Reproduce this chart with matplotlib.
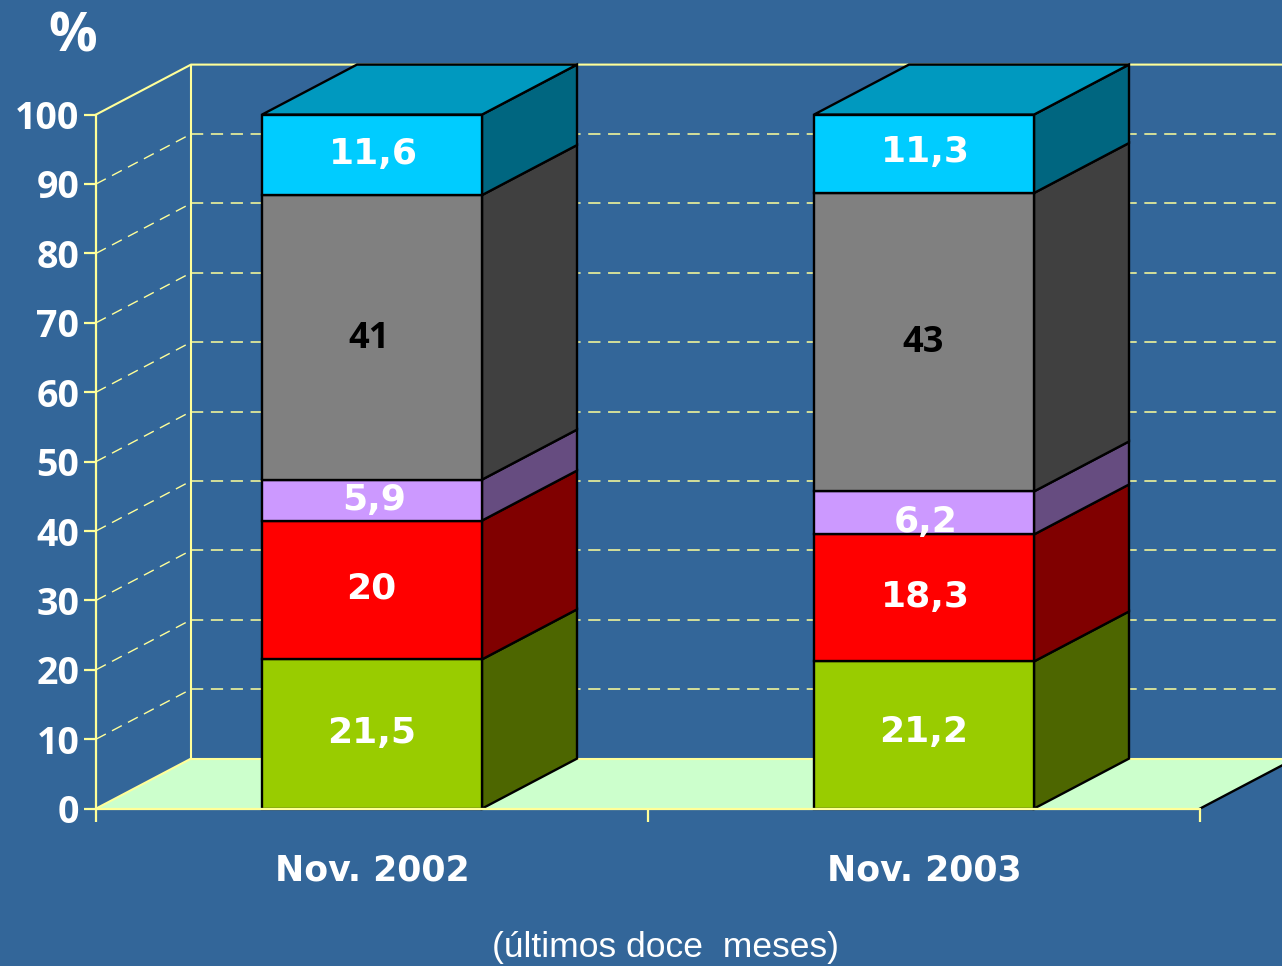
import numpy as np
import matplotlib
matplotlib.use("Agg")
import matplotlib.pyplot as plt
from matplotlib.patches import Polygon

# data
categories = ["Nov. 2002", "Nov. 2003"]
green = [21.5, 21.2]
red = [20, 18.3]
lilac = [5.9, 6.2]
grey = [41, 43]
cyan = [11.6, 11.3]
green_txt = ["21,5", "21,2"]
red_txt = ["20", "18,3"]
lilac_txt = ["5,9", "6,2"]
grey_txt = ["41", "43"]
cyan_txt = ["11,6", "11,3"]
y_ticks = list(range(0, 101, 10))

# colours
bg = "#336699"
yellow = "#FFFF99"
front_cols = ["#99CC00", "#FF0000", "#CC99FF", "#808080", "#00CCFF"]
side_cols = ["#4D6600", "#800000", "#664C80", "#404040", "#006680"]
top_col = "#0099BF"

# px per data unit, depth of the 3d box
sx = 552.0
sy = 6.94
dx = 95 / sx
dy = 50 / sy
bar_w = 220 / sx
edge = 1.7

fig = plt.figure(figsize=(12.82, 9.66), dpi=100, facecolor=bg)
ax = fig.add_axes([0, 0, 1, 1], facecolor=bg)
ax.set_xlim(-96 / sx, (1282 - 96) / sx)
ax.set_ylim(-157.4 / sy, 808.6 / sy)

# floor
ax.add_patch(Polygon([(0, 0), (2, 0), (2 + dx, dy), (dx, dy)], fc="#CCFFCC", ec="none", zorder=1))
ax.plot([2, 2 + dx], [0, dy], color="black", lw=edge, zorder=2)
ax.plot([dx, 2 + dx], [dy, dy], color=yellow, lw=1.5, zorder=2)
ax.plot([0, dx], [0, dy], color=yellow, lw=1.5, zorder=2)

# walls
ax.plot([dx, dx], [dy, 100 + dy], color=yellow, lw=1.5, zorder=2)
ax.plot([0, dx, 2 + dx], [100, 100 + dy, 100 + dy], color=yellow, lw=1.5, zorder=2)
for t in y_ticks[1:-1]:
    ax.plot([0, dx], [t, t + dy], color=yellow, lw=1.0, dashes=(8, 5), zorder=2)
    ax.plot([dx, 2 + dx], [t + dy, t + dy], color=yellow, lw=1.1, dashes=(8, 5), zorder=2)

# bars
x = np.array([0.5, 1.5])
stack = [green, red, lilac, grey, cyan]
bottom = np.zeros(2)
for vals, fc, sc in zip(stack, front_cols, side_cols):
    vals = np.array(vals, dtype=float)
    ax.bar(x, vals, bar_w, bottom=bottom, color=fc, edgecolor="black", linewidth=edge, zorder=4)
    for xi, b, v in zip(x, bottom, vals):
        r = xi + bar_w / 2
        ax.add_patch(Polygon([(r, b), (r + dx, b + dy), (r + dx, b + v + dy), (r, b + v)],
                             fc=sc, ec="black", lw=edge, zorder=3))
    bottom = bottom + vals
for xi, b in zip(x, bottom):
    l, r = xi - bar_w / 2, xi + bar_w / 2
    ax.add_patch(Polygon([(l, b), (r, b), (r + dx, b + dy), (l + dx, b + dy)],
                         fc=top_col, ec="black", lw=edge, zorder=3))

# value labels, nudged by hand in px
labels = [green_txt, red_txt, lilac_txt, grey_txt, cyan_txt]
nudge = [
    [(0, 1), (0, 3)],
    [(-1, 1), (1, 1)],
    [(2, 0), (2, -9)],
    [(-3, -2), (-1, -1)],
    [(1, 1), (1, 2)],
]
bottom = np.zeros(2)
for vals, txt, nd, i in zip(stack, labels, nudge, range(5)):
    for j in range(2):
        is_grey = i == 3
        ax.annotate(txt[j], (x[j], bottom[j] + vals[j] / 2),
                    xytext=(nd[j][0] * 0.72, nd[j][1] * 0.72), textcoords="offset points",
                    ha="center", va="center", zorder=6,
                    color="black" if is_grey else "white", fontweight="bold",
                    fontsize=26,
                    family="Open Sans" if is_grey else "DejaVu Sans")
    bottom = bottom + np.array(vals, dtype=float)

# axes
for s in ["top", "right"]:
    ax.spines[s].set_visible(False)
ax.spines["left"].set_position(("data", 0))
ax.spines["bottom"].set_position(("data", 0))
ax.spines["left"].set_bounds(0, 100)
ax.spines["bottom"].set_bounds(0, 2)
for s in ["left", "bottom"]:
    ax.spines[s].set_color(yellow)
    ax.spines[s].set_linewidth(1.6)
    ax.spines[s].set_zorder(5)

ax.set_yticks(y_ticks)
ax.set_xticks([0, 1, 2])
ax.set_xticklabels([])
ax.set_xticks(x, minor=True)
ax.set_xticklabels(categories, minor=True, color="white", fontsize=25, fontweight="bold", family="DejaVu Sans")
ax.tick_params(axis="x", which="minor", length=0, pad=32.5)
ax.tick_params(axis="x", which="major", length=9, width=1.6, color=yellow)
ax.tick_params(axis="y", length=9, width=1.6, color=yellow, pad=3, labelcolor="white", labelsize=27)
for lab in ax.get_yticklabels():
    lab.set_family("Open Sans")
    lab.set_fontweight("bold")

fig.text(73 / 1282, 1 - 38 / 966, "%", color="white", fontsize=39, fontweight="bold",
         ha="center", va="center", family="Open Sans")
fig.text(665 / 1282, 1 - 947 / 966, "(últimos doce  meses)", color="white", fontsize=25.5,
         ha="center", va="center", family="Liberation Sans")

plt.savefig("out.png", dpi=100, facecolor=bg)
